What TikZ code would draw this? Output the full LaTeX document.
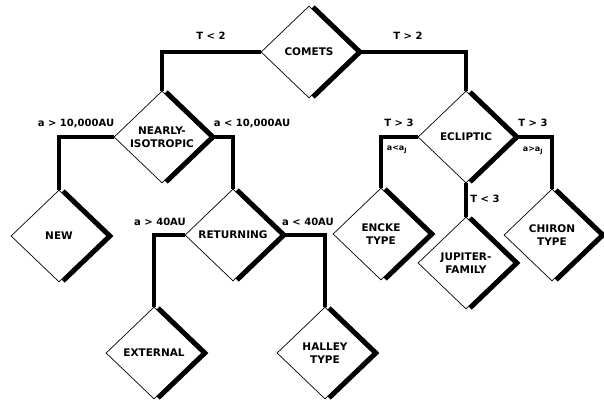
\documentclass[tikz,border=0pt]{standalone}
\usepackage{fontspec}
\setmainfont{DejaVu Sans}
\usetikzlibrary{shapes.geometric}
\tikzset{
  box/.style={shape=diamond, draw, line width=0.7pt, minimum width=96pt, minimum height=92pt,
    inner sep=0pt, align=center, font=\fontsize{10.5}{13}\selectfont\bfseries},
  shade/.style={line width=4.8pt, line join=miter, shorten <=2pt, shorten >=2pt},
  link/.style={line width=3.4pt, line join=miter},
  lab/.style={inner sep=0pt, font=\fontsize{10}{11}\selectfont\bfseries},
  small/.style={inner sep=0pt, font=\fontsize{8}{9}\selectfont\bfseries}
}
\newcommand{\shadowof}[1]{\draw[shade] ([xshift=2.6pt]#1.north) -- ([xshift=2.6pt]#1.east) -- ([xshift=2.6pt]#1.south);}
\begin{document}
\begin{tikzpicture}[x=1pt,y=-1pt]
\useasboundingbox (0,0) rectangle (604,404);
\node[box] (comets) at (309,52) {COMETS};
\node[box] (nearly) at (162,137) {NEARLY-\\ISOTROPIC};
\node[box] (eclip) at (466,137) {ECLIPTIC};
\node[box] (new) at (59,236) {NEW};
\node[box] (ret) at (233,235) {RETURNING};
\node[box] (ext) at (154,353) {EXTERNAL};
\node[box] (hal) at (325,353) {HALLEY\\TYPE};
\node[box] (enc) at (381,234) {ENCKE\\TYPE};
\node[box] (jup) at (466,263) {JUPITER-\\FAMILY};
\node[box] (chi) at (552,235) {CHIRON\\TYPE};
\foreach \n in {comets,nearly,eclip,new,ret,ext,hal,enc,jup,chi}{\shadowof{\n}}
\draw[link] (comets.west) -| (nearly.north);
\draw[link] (comets.east) -| (eclip.north);
\draw[link] (nearly.west) -| (new.north);
\draw[link] (nearly.east) -| (ret.north);
\draw[link] (ret.west) -| (ext.north);
\draw[link] (ret.east) -| (hal.north);
\draw[link] (eclip.west) -| (enc.north);
\draw[link] (eclip.east) -| (chi.north);
\draw[link] (eclip.south) -- (jup.north);
\node[lab] (l1) at (211,36) {T < 2};
\node[lab] (l2) at (408,36) {T > 2};
\node[lab] (l3) at (76,123) {a > 10,000AU};
\node[lab] (l4) at (252,123) {a < 10,000AU};
\node[lab] (l5) at (160,222) {a > 40AU};
\node[lab] (l6) at (308,222) {a < 40AU};
\node[lab] (l7) at (399,123) {T > 3};
\node[lab] (l8) at (533,123) {T > 3};
\node[lab] (l9) at (485,199) {T < 3};
\node[small] (s1) at (397,150) {a<a\textsubscript{J}};
\node[small] (s2) at (533,151) {a>a\textsubscript{J}};
\end{tikzpicture}
\end{document}
